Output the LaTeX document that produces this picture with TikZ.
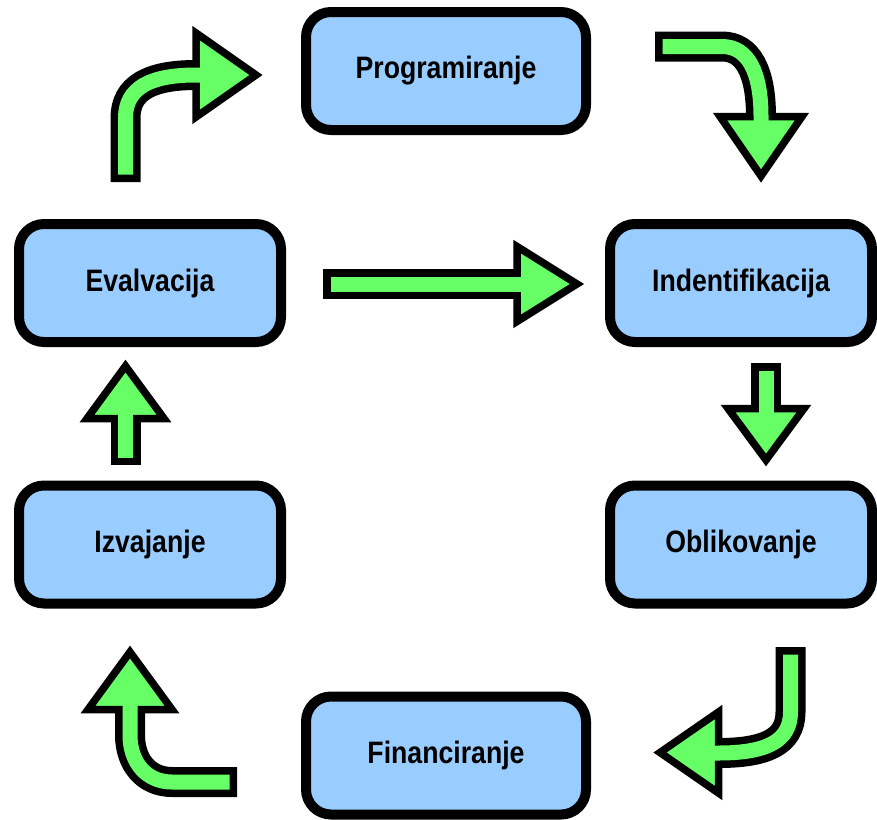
\documentclass[tikz,border=0pt]{standalone}
\usepackage{fontspec}
\newfontfamily\boxfont{Liberation Sans}[FakeStretch=0.86]
\usetikzlibrary{positioning,calc}
\definecolor{boxblue}{HTML}{99CCFF}
\definecolor{arrowgreen}{HTML}{66FF66}

\begin{document}
\begin{tikzpicture}[x=1pt,y=-1pt,line join=miter]
\tikzset{stage/.style={draw=black,fill=boxblue,line width=10pt,rounded corners=25pt,
    minimum width=262pt,minimum height=118pt,inner sep=0pt,
    font=\boxfont\bfseries\fontsize{31}{36}\selectfont},
  shaftout/.style={draw=black,line width=30pt},
  shaftin/.style={draw=arrowgreen,line width=15pt},
  headtip/.style={draw=black,fill=arrowgreen,line width=7.5pt}}
\useasboundingbox (0,0) rectangle (877,819);
% stages of the cycle
\node[stage,minimum width=280pt] (prog) at (446,71) {Programiranje};
\node[stage] (ident) at (741,283) {Indentifikacija};
\node[stage] (obl) at (741,544.5) {Oblikovanje};
\node[stage,minimum width=280pt] (fin) at (446,755.5) {Financiranje};
\node[stage] (izv) at (150,544.5) {Izvajanje};
\node[stage] (eval) at (150,283) {Evalvacija};
% arrow ends
\coordinate (evS) at (323,284);   \coordinate (evE) at (524,284);
\coordinate (idS) at (766,363);   \coordinate (idE) at (766,415);
\coordinate (izS) at (125.5,465); \coordinate (izE) at (125.5,412);
\coordinate (tlS) at (125.5,182); \coordinate (tlE) at (203,75);
\coordinate (trS) at (655,46.5);  \coordinate (trE) at (761,123);
\coordinate (brS) at (790.5,647); \coordinate (brE) at (712,753);
\coordinate (blS) at (237,782);   \coordinate (blE) at (130,703);
% Evalvacija -> Indentifikacija
\draw[shaftout] (evS) -- (evE);
\draw[headtip] (517,246.5) -- (577,284) -- (517,321.5) -- cycle;
\draw[shaftin,shorten <=7.5pt] (evS) -- (evE);
% Indentifikacija -> Oblikovanje
\draw[shaftout] (idS) -- (idE);
\draw[headtip] (728,408.5) -- (766,460) -- (804,408.5) -- cycle;
\draw[shaftin,shorten <=7.5pt] (idS) -- (idE);
% Izvajanje -> Evalvacija
\draw[shaftout] (izS) -- (izE);
\draw[headtip] (87,418.5) -- (125.5,366) -- (164,418.5) -- cycle;
\draw[shaftin,shorten <=7.5pt] (izS) -- (izE);
% Evalvacija -> Programiranje
\draw[shaftout] (tlS) -- (125.5,118) .. controls (125.5,88) and (150,75) .. (196,75) -- (tlE);
\draw[headtip] (196,33) -- (256,75) -- (196,117) -- cycle;
\draw[shaftin,shorten <=7.5pt] (tlS) -- (125.5,118) .. controls (125.5,88) and (150,75) .. (196,75) -- (tlE);
% Programiranje -> Indentifikacija
\draw[shaftout] (trS) -- (722,46.5) .. controls (748,46.5) and (761,72) .. (761,116.5) -- (trE);
\draw[headtip] (720,116.5) -- (761,176) -- (802,116.5) -- cycle;
\draw[shaftin,shorten <=7.5pt] (trS) -- (722,46.5) .. controls (748,46.5) and (761,72) .. (761,116.5) -- (trE);
% Oblikovanje -> Financiranje
\draw[shaftout] (brS) -- (790.5,712) .. controls (790.5,742) and (765,753) .. (718.5,753) -- (brE);
\draw[headtip] (718.5,712) -- (660,752.5) -- (718.5,793) -- cycle;
\draw[shaftin,shorten <=7.5pt] (brS) -- (790.5,712) .. controls (790.5,742) and (765,753) .. (718.5,753) -- (brE);
% Financiranje -> Izvajanje
\draw[shaftout] (blS) -- (172,782) .. controls (146,782) and (130,762) .. (130,735) -- (blE);
\draw[headtip] (88,709.5) -- (130,652) -- (172,709.5) -- cycle;
\draw[shaftin,shorten <=7.5pt] (blS) -- (172,782) .. controls (146,782) and (130,762) .. (130,735) -- (blE);
\end{tikzpicture}
\end{document}
